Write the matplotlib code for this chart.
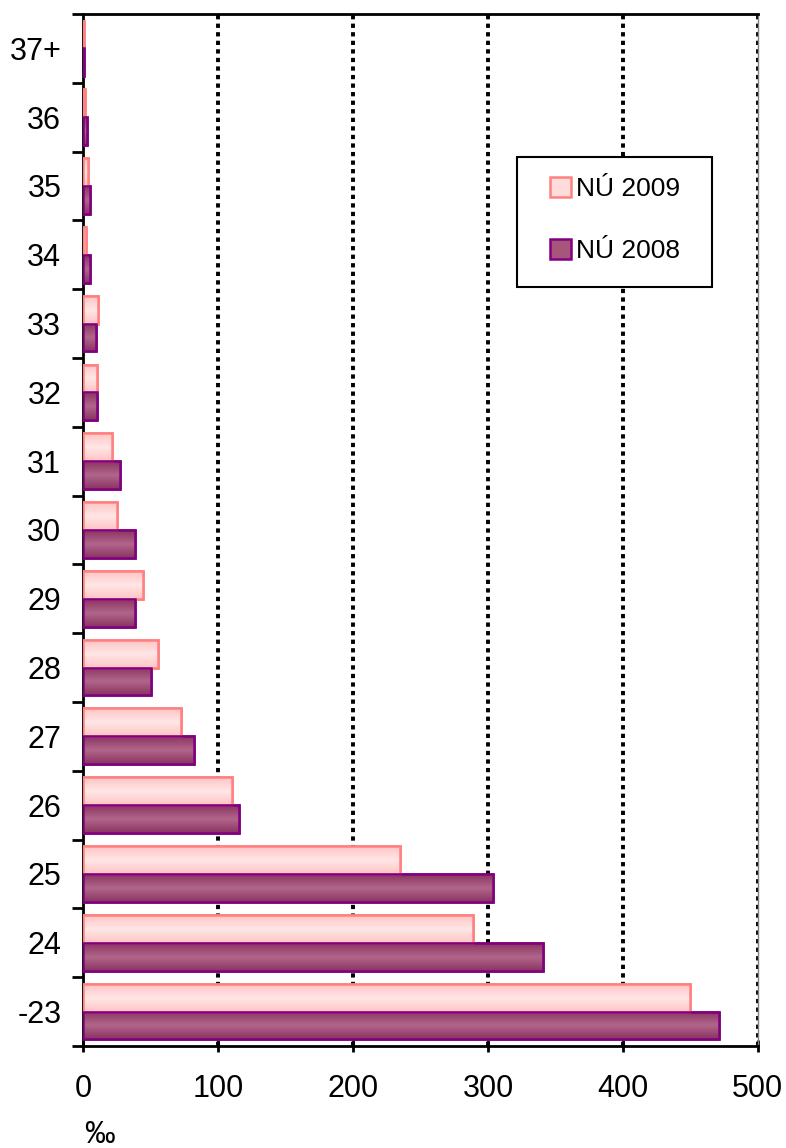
import matplotlib
matplotlib.use("Agg")
import matplotlib.pyplot as plt
import numpy as np
from matplotlib.colors import LinearSegmentedColormap
from matplotlib.patches import Rectangle

plt.rcParams['font.family'] = ['Liberation Sans', 'DejaVu Sans']

categories = ["-23", "24", "25", "26", "27", "28", "29", "30", "31", "32", "33", "34", "35", "36", "37+"]
nu2009 = [450, 289, 235, 110, 72, 55, 44, 25, 21, 10, 11, 2, 3, 1, 0.5]
nu2008 = [471, 341, 304, 115, 82, 50, 38, 38, 27, 10, 9, 5, 5, 2.5, 0.5]
xticks = [0, 100, 200, 300, 400, 500]
series_labels = ["NÚ 2009", "NÚ 2008"]

fig = plt.figure(figsize=(7.86, 11.48), dpi=100)
ax = fig.add_axes([0.1062, 0.0889, 0.8578, 0.8989])

y = np.arange(len(categories))
h = 0.405
b09 = ax.barh(y + h / 2, nu2009, height=h, color="#FFDCDC", edgecolor="#FF8080", linewidth=1.8, zorder=3, label=series_labels[0])
b08 = ax.barh(y - h / 2, nu2008, height=h, color="#A8557C", edgecolor="#800080", linewidth=1.8, zorder=3, label=series_labels[1])

# gradient overlays
cm09 = LinearSegmentedColormap.from_list("g09", ["#FFC4C4", "#FFE6E6", "#FFC4C4"])
cm08 = LinearSegmentedColormap.from_list("g08", ["#8A3462", "#B2668A", "#8A3462"])
grad = np.linspace(0, 1, 64).reshape(-1, 1)
for bars, cm in ((b09, cm09), (b08, cm08)):
    for p in bars.patches:
        x0, y0 = p.get_x(), p.get_y()
        w, hh = p.get_width(), p.get_height()
        if w <= 0:
            continue
        im = ax.imshow(grad, cmap=cm, aspect="auto", extent=(x0, x0 + w, y0, y0 + hh),
                       origin="lower", zorder=3.5, interpolation="bilinear")
        im.set_clip_path(p)
        p2 = Rectangle((x0, y0), w, hh, fill=False, edgecolor=p.get_edgecolor(), linewidth=1.8, zorder=4)
        ax.add_patch(p2)

ax.set_xlim(0, 500)
ax.set_ylim(-0.5, len(categories) - 0.5)

# gridlines
for gx in xticks[1:]:
    ax.axvline(gx, color="black", linestyle=(0, (1.1, 1.1)), linewidth=2.8, zorder=2)

ax.set_xticks(xticks)
ax.set_xticklabels([str(v) for v in xticks], fontsize=22)
ax.set_yticks(y)
ax.set_yticklabels(categories, fontsize=22)
ax.set_yticks(np.arange(-0.5, len(categories), 1.0), minor=True)
ax.tick_params(axis="y", which="major", length=0, pad=16)
ax.tick_params(axis="y", which="minor", length=8, width=2, direction="out")
ax.tick_params(axis="x", which="major", length=9, width=2, direction="inout", pad=16)

for s in ("left", "bottom", "top"):
    ax.spines[s].set_linewidth(2)
    ax.spines[s].set_color("black")
ax.spines["right"].set_color("#808080")
ax.spines["right"].set_linewidth(1)

ax.set_xlabel("‰", fontsize=22)
ax.xaxis.set_label_coords(0.023, -0.072)

# legend frame
frame = Rectangle((0.643, 0.7355), 0.289, 0.1259, transform=ax.transAxes,
                  facecolor="white", edgecolor="black", linewidth=1.5, zorder=9)
ax.add_patch(frame)
leg = ax.legend(loc="center left", bbox_to_anchor=(0.6915, 0.8004), fontsize=19,
                frameon=False, handlelength=0.8, handleheight=0.8, handletextpad=0.2,
                labelspacing=1.44, borderpad=0, borderaxespad=0)
leg.set_zorder(10)

fig.savefig("out.png", dpi=100)
